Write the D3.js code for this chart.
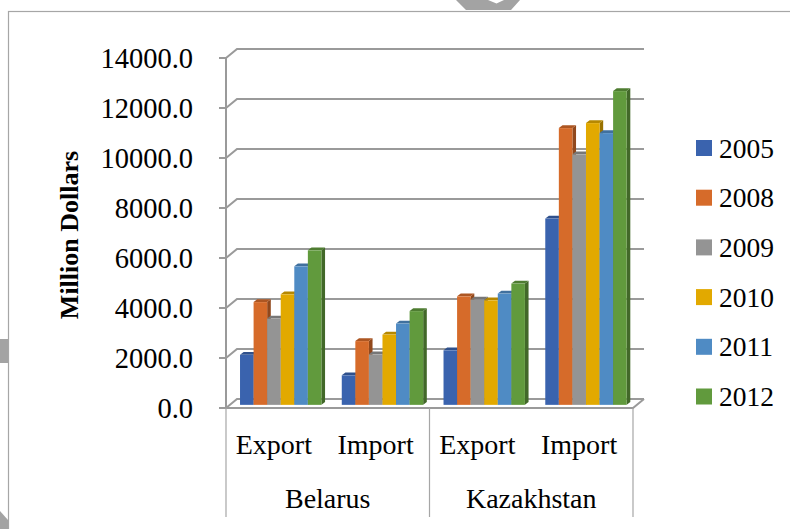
<!DOCTYPE html>
<html>
<head>
<meta charset="utf-8">
<script src="https://cdn.jsdelivr.net/npm/d3@7"></script>
<style>
  html, body { margin: 0; padding: 0; background: #fff; }
  svg { display: block; }
  text { font-family: "Liberation Serif", "Times New Roman", serif; fill: #000; }
</style>
</head>
<body>
<svg id="chart" width="790" height="529"></svg>
<script>
// Trade of Belarus and Kazakhstan, million US dollars
const countries = ["Belarus", "Kazakhstan"];
const flows = ["Export", "Import"];
const years = ["2005", "2008", "2009", "2010", "2011", "2012"];
// one value per country/flow pair: Belarus Export, Belarus Import, Kazakhstan Export, Kazakhstan Import
const v2005 = [2000, 1180, 2180, 7450];
const v2008 = [4110, 2550, 4340, 11070];
const v2009 = [3450, 2020, 4210, 10020];
const v2010 = [4420, 2810, 4180, 11270];
const v2011 = [5540, 3250, 4450, 10870];
const v2012 = [6180, 3750, 4850, 12550];
const yTicks = [0, 2000, 4000, 6000, 8000, 10000, 12000, 14000];
const colors = ["#3a63ae", "#d66b2a", "#949494", "#e2a900", "#4f8bc4", "#619a3d"];

const series = [v2005, v2008, v2009, v2010, v2011, v2012];
const groups = [];
countries.forEach(c => flows.forEach(f => groups.push({ country: c, flow: f, key: c + "|" + f })));

const svg = d3.select("#chart");
const grid = "#9a9a9a";

// frame of the chart object
svg.append("rect").attr("x", 8.5).attr("y", 11.5).attr("width", 820).attr("height", 560)
  .attr("fill", "none").attr("stroke", "#a6a6a6").attr("stroke-width", 1.2);

// plot geometry
const x0 = 226, x1 = 633, yBase = 408, yTop = 58;
const depth = { dx: 11, dy: -9 };        // wall / floor depth
const y = d3.scaleLinear().domain([0, 14000]).range([yBase, yTop]);
const xOuter = d3.scaleBand().domain(groups.map(g => g.key)).range([x0, x1])
  .paddingInner(0.2).paddingOuter(0.1);
const xInner = d3.scaleBand().domain(years).range([0, xOuter.bandwidth()]);
const xCountry = d3.scaleBand().domain(countries).range([x0, x1]);

// back wall gridlines with the oblique step from the value axis
const gridG = svg.append("g");
yTicks.forEach(t => {
  const yy = y(t);
  gridG.append("path")
    .attr("d", `M${x0},${yy} L${x0 + depth.dx},${yy + depth.dy} L${x1 + depth.dx},${yy + depth.dy}`)
    .attr("fill", "none").attr("stroke", grid).attr("stroke-width", 2);
  gridG.append("line").attr("x1", x0 - 7).attr("x2", x0).attr("y1", yy).attr("y2", yy)
    .attr("stroke", grid).attr("stroke-width", 2);
});

// floor front edge and right edge
gridG.append("path")
  .attr("d", `M${x0 - 7},${yBase} L${x1},${yBase} L${x1 + depth.dx},${yBase + depth.dy}`)
  .attr("fill", "none").attr("stroke", grid).attr("stroke-width", 2);

// value axis line
gridG.append("line").attr("x1", x0).attr("x2", x0).attr("y1", yTop).attr("y2", yBase)
  .attr("stroke", grid).attr("stroke-width", 2);

// category dividers (outer level)
const dividers = [x0, xCountry("Kazakhstan"), x1];
dividers.forEach(dx => {
  gridG.append("line").attr("x1", dx).attr("x2", dx).attr("y1", yBase).attr("y2", 517)
    .attr("stroke", "#a6a6a6").attr("stroke-width", 1.2);
});

// tick labels
const tickG = svg.append("g");
yTicks.forEach(t => {
  tickG.append("text").attr("x", 193).attr("y", y(t)).attr("dy", "0.35em")
    .attr("text-anchor", "end").style("font-size", "28.5px").text(d3.format(".1f")(t));
});

// axis title
svg.append("text").attr("transform", `translate(78,235) rotate(-90)`)
  .attr("text-anchor", "middle").style("font-size", "26px").style("font-weight", "bold")
  .text("Million Dollars");

// 3D bars: front plane placed a third into the floor depth, bar depth a third of it
const f0 = 0.35, fb = 0.33;
const off = { dx: depth.dx * f0, dy: depth.dy * f0 };
const bd = { dx: depth.dx * fb, dy: depth.dy * fb };
const barG = svg.append("g");
groups.forEach((g, gi) => {
  series.forEach((vals, si) => {
    const v = vals[gi];
    const c = d3.color(colors[si]);
    const left = xOuter(g.key) + xInner(years[si]) + off.dx;
    const right = left + xInner.bandwidth();
    const top = y(v) + off.dy;
    const bottom = y(0) + off.dy;
    // right side face
    barG.append("path")
      .attr("d", `M${right},${top} L${right + bd.dx},${top + bd.dy} L${right + bd.dx},${bottom + bd.dy} L${right},${bottom} Z`)
      .attr("fill", c.darker(1.1));
    // top face
    barG.append("path")
      .attr("d", `M${left},${top} L${left + bd.dx},${top + bd.dy} L${right + bd.dx},${top + bd.dy} L${right},${top} Z`)
      .attr("fill", c.darker(0.6));
    // front face
    barG.append("rect").attr("x", left).attr("y", top)
      .attr("width", xInner.bandwidth()).attr("height", bottom - top)
      .attr("fill", colors[si]);
  });
});

// inner category labels
const catG = svg.append("g");
groups.forEach(g => {
  catG.append("text").attr("x", xOuter(g.key) + xOuter.bandwidth() / 2 - 3).attr("y", 444)
    .attr("dy", "0.35em").attr("text-anchor", "middle").style("font-size", "28px").text(g.flow);
});
countries.forEach(c => {
  catG.append("text").attr("x", xCountry(c) + xCountry.bandwidth() / 2).attr("y", 498)
    .attr("dy", "0.35em").attr("text-anchor", "middle").style("font-size", "28px").text(c);
});

// legend
const legG = svg.append("g");
years.forEach((yr, i) => {
  const cy = 148 + i * 49.7;
  legG.append("rect").attr("x", 696).attr("y", cy - 8).attr("width", 16).attr("height", 16)
    .attr("fill", colors[i]);
  legG.append("text").attr("x", 719).attr("y", cy).attr("dy", "0.35em")
    .style("font-size", "27.5px").text(yr);
});

// selection handles of the embedded object
const handles = svg.append("g").attr("fill", "#a3a3a3");
handles.append("path").attr("d", "M456,0 L488,0 L496.5,3.5 L504,0 L520,0 L511,10 L466,10 Z");
handles.append("rect").attr("x", 0).attr("y", 339).attr("width", 8).attr("height", 24);
handles.append("path").attr("d", "M0,511 L8,520 L8,529 L0,529 Z");
</script>
</body>
</html>
